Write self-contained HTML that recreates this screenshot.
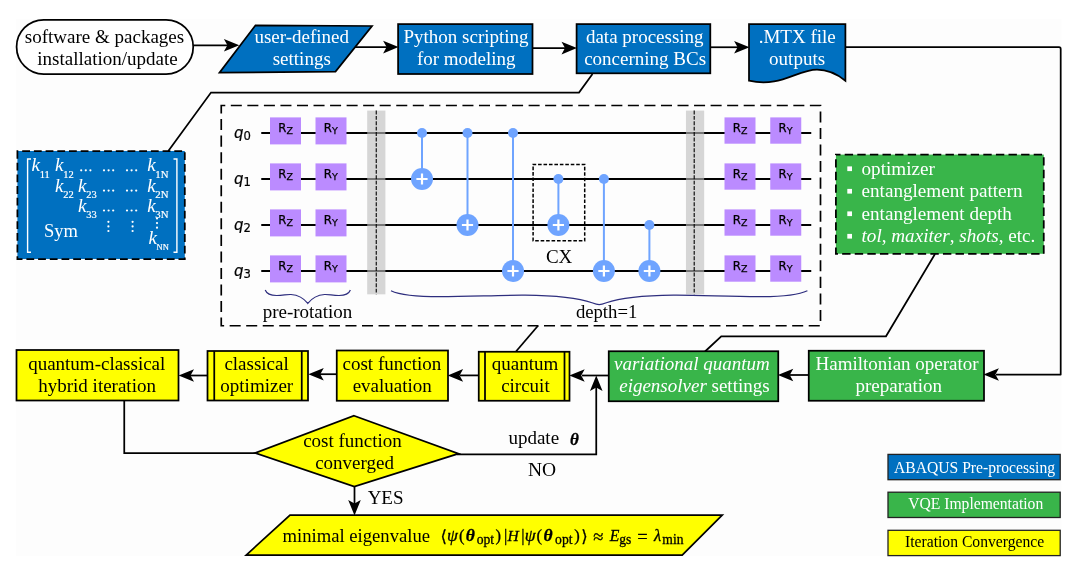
<!DOCTYPE html><html><head><meta charset="utf-8"><title>VQE workflow</title>
<style>html,body{margin:0;padding:0;background:#fff}svg{display:block}text{white-space:pre}</style></head><body>
<svg width="1080" height="570" viewBox="0 0 1080 570" font-family="'Liberation Serif',serif">
<rect width="1080" height="570" fill="#fff"/>
<rect x="16" y="19" width="1045.5" height="537" fill="#FDFDFD"/>
<polyline points="193.2,45.3 228,45.3" fill="none" stroke="#000" stroke-width="1.75"/>
<polygon points="239.3,45.3 223.9,39.0 227.4,45.3 223.9,51.599999999999994" fill="#000"/>
<polyline points="354.5,47.1 388,47.1" fill="none" stroke="#000" stroke-width="1.75"/>
<polygon points="398.5,47.1 383.1,40.800000000000004 386.6,47.1 383.1,53.4" fill="#000"/>
<polyline points="532.5,48.1 566,48.1" fill="none" stroke="#000" stroke-width="1.75"/>
<polygon points="576.9,48.1 561.5,41.800000000000004 565,48.1 561.5,54.4" fill="#000"/>
<polyline points="710.5,47.25 738,47.25" fill="none" stroke="#000" stroke-width="1.75"/>
<polygon points="749.5,47.25 734.1,40.95 737.6,47.25 734.1,53.55" fill="#000"/>
<path d="M845.4,47.2 H1059 Q1060.7,47.2 1060.7,49 V374.5 H996" fill="none" stroke="#000" stroke-width="1.75" stroke-linejoin="round"/>
<polygon points="983.5,374.5 998.9,368.2 995.4,374.5 998.9,380.8" fill="#000"/>
<polyline points="592.5,74 579,92.5 211,92.5 168.3,151" fill="none" stroke="#000" stroke-width="1.75"/>
<polyline points="935,254 886,336.25 721.25,336.25 705,351.5" fill="none" stroke="#000" stroke-width="1.75"/>
<polyline points="538,325.75 515.75,351.75" fill="none" stroke="#000" stroke-width="1.75"/>
<polyline points="808.75,375 790,375" fill="none" stroke="#000" stroke-width="1.75"/>
<polygon points="777.85,375 793.25,368.7 789.75,375 793.25,381.3" fill="#000"/>
<polyline points="608.75,375.5 582,375.5" fill="none" stroke="#000" stroke-width="1.75"/>
<polygon points="569.3000000000001,375.5 584.7,369.2 581.2,375.5 584.7,381.8" fill="#000"/>
<polyline points="478.75,375.4 460,375.4" fill="none" stroke="#000" stroke-width="1.75"/>
<polygon points="447.70000000000005,375.4 463.1,369.09999999999997 459.6,375.4 463.1,381.7" fill="#000"/>
<polyline points="336.75,374.2 320,374.2" fill="none" stroke="#000" stroke-width="1.75"/>
<polygon points="308.35,374.2 323.75,367.9 320.25,374.2 323.75,380.5" fill="#000"/>
<polyline points="207.5,375.5 190,375.5" fill="none" stroke="#000" stroke-width="1.75"/>
<polygon points="178.6,375.5 194.0,369.2 190.5,375.5 194.0,381.8" fill="#000"/>
<polyline points="124.25,400 124.25,453 257,453" fill="none" stroke="#000" stroke-width="1.75"/>
<polyline points="457,454.4 596.25,454.4 596.25,387" fill="none" stroke="#000" stroke-width="1.75"/>
<polygon points="596.25,375.6 589.95,391.0 596.25,387.5 602.55,391.0" fill="#000"/>
<polyline points="354.5,486 354.5,504" fill="none" stroke="#000" stroke-width="1.75"/>
<polygon points="354.5,515.4 348.2,500.0 354.5,503.5 360.8,500.0" fill="#000"/>
<rect x="16.6" y="19.75" width="176.6" height="54.25" rx="27.1" ry="27.1" fill="#fff" stroke="#000" stroke-width="1.75"/>
<text x="104.5" y="42.5" font-size="19" fill="#000" text-anchor="middle">software &amp; packages</text>
<text x="107.5" y="64.75" font-size="19" fill="#000" text-anchor="middle">installation/update</text>
<polygon points="255.5,25.3 372,26 335.5,71.6 219.5,72.6" fill="#0070C0" stroke="#000" stroke-width="1.75"/>
<text x="301.75" y="42.5" font-size="19" fill="#fff" text-anchor="middle">user-defined</text>
<text x="301.75" y="64.75" font-size="19" fill="#fff" text-anchor="middle">settings</text>
<rect x="398.1" y="24.1" width="134.39999999999998" height="49.9" fill="#0070C0" stroke="#000" stroke-width="1.75"/>
<text x="466" y="42.5" font-size="19" fill="#fff" text-anchor="middle">Python scripting</text>
<text x="466.25" y="64.75" font-size="19" fill="#fff" text-anchor="middle">for modeling</text>
<rect x="576.6" y="24.1" width="133.69999999999993" height="49.199999999999996" fill="#0070C0" stroke="#000" stroke-width="1.75"/>
<text x="644.75" y="42.5" font-size="19" fill="#fff" text-anchor="middle">data processing</text>
<text x="645.1" y="64.75" font-size="19" fill="#fff" text-anchor="middle">concerning BCs</text>
<path d="M749,24.2 H845.4 V80.7 C835,72.5 826,69.7 817,69.7 C797,69.7 780,88 749,80.7 Z" fill="#0070C0" stroke="#000" stroke-width="1.75"/>
<text x="797.25" y="42.5" font-size="19" fill="#fff" text-anchor="middle">.MTX file</text>
<text x="797.1" y="64.75" font-size="19" fill="#fff" text-anchor="middle">outputs</text>
<rect x="17.4" y="151" width="167.4" height="108" fill="#0070C0" stroke="#000" stroke-width="1.75" stroke-dasharray="7.8 3.9" stroke-dashoffset="6.9"/>
<path d="M31,159 H27.6 V252.3 H31 M173.5,159 H176.9 V252.3 H173.5" fill="none" stroke="#fff" stroke-width="1.4"/>
<text x="31.5" y="171.3" font-size="19" fill="#fff" font-style="italic">k<tspan font-style="normal" font-size="10.5" dy="6.4" dx="-0.3" stroke="#fff" stroke-width="0.2">11</tspan></text>
<text x="55" y="171.3" font-size="19" fill="#fff" font-style="italic">k<tspan font-style="normal" font-size="10.5" dy="6.4" dx="-0.3" stroke="#fff" stroke-width="0.2">12</tspan></text>
<text x="147.2" y="171.3" font-size="19" fill="#fff" font-style="italic">k<tspan font-style="normal" font-size="10.8" dy="6.4" dx="-0.3" stroke="#fff" stroke-width="0.2">1N</tspan></text>
<text x="55" y="192" font-size="19" fill="#fff" font-style="italic">k<tspan font-style="normal" font-size="10.5" dy="6.4" dx="-0.3" stroke="#fff" stroke-width="0.2">22</tspan></text>
<text x="78" y="192" font-size="19" fill="#fff" font-style="italic">k<tspan font-style="normal" font-size="10.5" dy="6.4" dx="-0.3" stroke="#fff" stroke-width="0.2">23</tspan></text>
<text x="147.2" y="192" font-size="19" fill="#fff" font-style="italic">k<tspan font-style="normal" font-size="10.8" dy="6.4" dx="-0.3" stroke="#fff" stroke-width="0.2">2N</tspan></text>
<text x="78" y="211.9" font-size="19" fill="#fff" font-style="italic">k<tspan font-style="normal" font-size="10.5" dy="6.4" dx="-0.3" stroke="#fff" stroke-width="0.2">33</tspan></text>
<text x="147.2" y="211.9" font-size="19" fill="#fff" font-style="italic">k<tspan font-style="normal" font-size="10.8" dy="6.4" dx="-0.3" stroke="#fff" stroke-width="0.2">3N</tspan></text>
<text x="148.4" y="244" font-size="19" fill="#fff" font-style="italic">k<tspan font-style="normal" font-size="8.5" dy="6.4" dx="-0.3" stroke="#fff" stroke-width="0.2">NN</tspan></text>
<circle cx="81.2" cy="170.3" r="1.1" fill="#fff"/>
<circle cx="85.8" cy="170.3" r="1.1" fill="#fff"/>
<circle cx="90.4" cy="170.3" r="1.1" fill="#fff"/>
<circle cx="104.0" cy="170.3" r="1.1" fill="#fff"/>
<circle cx="108.6" cy="170.3" r="1.1" fill="#fff"/>
<circle cx="113.2" cy="170.3" r="1.1" fill="#fff"/>
<circle cx="127.0" cy="170.3" r="1.1" fill="#fff"/>
<circle cx="131.6" cy="170.3" r="1.1" fill="#fff"/>
<circle cx="136.2" cy="170.3" r="1.1" fill="#fff"/>
<circle cx="104.0" cy="190.6" r="1.1" fill="#fff"/>
<circle cx="108.6" cy="190.6" r="1.1" fill="#fff"/>
<circle cx="113.2" cy="190.6" r="1.1" fill="#fff"/>
<circle cx="127.0" cy="190.6" r="1.1" fill="#fff"/>
<circle cx="131.6" cy="190.6" r="1.1" fill="#fff"/>
<circle cx="136.2" cy="190.6" r="1.1" fill="#fff"/>
<circle cx="104.0" cy="210.5" r="1.1" fill="#fff"/>
<circle cx="108.6" cy="210.5" r="1.1" fill="#fff"/>
<circle cx="113.2" cy="210.5" r="1.1" fill="#fff"/>
<circle cx="127.0" cy="210.5" r="1.1" fill="#fff"/>
<circle cx="131.6" cy="210.5" r="1.1" fill="#fff"/>
<circle cx="136.2" cy="210.5" r="1.1" fill="#fff"/>
<circle cx="108.4" cy="221.8" r="1.1" fill="#fff"/>
<circle cx="108.4" cy="226.4" r="1.1" fill="#fff"/>
<circle cx="108.4" cy="231.0" r="1.1" fill="#fff"/>
<circle cx="132.6" cy="221.8" r="1.1" fill="#fff"/>
<circle cx="132.6" cy="226.4" r="1.1" fill="#fff"/>
<circle cx="132.6" cy="231.0" r="1.1" fill="#fff"/>
<circle cx="157" cy="218.5" r="1.1" fill="#fff"/>
<circle cx="157" cy="223.1" r="1.1" fill="#fff"/>
<circle cx="157" cy="227.7" r="1.1" fill="#fff"/>
<text x="61" y="237" font-size="18.5" fill="#fff" text-anchor="middle">Sym</text>
<rect x="221.25" y="105.5" width="599.25" height="220.25" fill="none" stroke="#000" stroke-width="1.7" stroke-dasharray="11.03 5.515" stroke-dashoffset="7"/>
<line x1="261.25" y1="133" x2="811.25" y2="133" stroke="#000" stroke-width="2"/>
<line x1="261.25" y1="179" x2="811.25" y2="179" stroke="#000" stroke-width="2"/>
<line x1="261.25" y1="225" x2="811.25" y2="225" stroke="#000" stroke-width="2"/>
<line x1="261.25" y1="271" x2="811.25" y2="271" stroke="#000" stroke-width="2"/>
<rect x="367.2" y="110.6" width="18.2" height="183.7" fill="#BFBFBF" fill-opacity="0.62"/>
<line x1="376.25" y1="110.5" x2="376.25" y2="294.25" stroke="#000" stroke-width="1.1" stroke-dasharray="3.9 1.5"/>
<rect x="685.95" y="110.6" width="18.2" height="183.7" fill="#BFBFBF" fill-opacity="0.62"/>
<line x1="694.2" y1="110.5" x2="694.2" y2="294.25" stroke="#000" stroke-width="1.1" stroke-dasharray="3.9 1.5"/>
<text x="234" y="137.5" font-size="15" font-family="'DejaVu Sans',sans-serif" font-style="italic" stroke="#000" stroke-width="0.2">q<tspan font-style="normal" font-size="11.6" dy="2">0</tspan></text>
<rect x="270" y="117.4" width="31" height="27" fill="#BB8BFF"/>
<text x="278.3" y="132.2" font-size="11.7" font-family="'DejaVu Sans',sans-serif" stroke="#000" stroke-width="0.25">R<tspan font-size="9.5" dy="2">Z</tspan></text>
<rect x="315.5" y="117.4" width="31" height="27" fill="#BB8BFF"/>
<text x="323.8" y="132.2" font-size="11.7" font-family="'DejaVu Sans',sans-serif" stroke="#000" stroke-width="0.25">R<tspan font-size="9.5" dy="2">Y</tspan></text>
<rect x="724.5" y="117.4" width="31" height="26.3" fill="#BB8BFF"/>
<text x="732.8" y="132.2" font-size="11.7" font-family="'DejaVu Sans',sans-serif" stroke="#000" stroke-width="0.25">R<tspan font-size="9.5" dy="2">Z</tspan></text>
<rect x="770.25" y="117.4" width="31" height="26.3" fill="#BB8BFF"/>
<text x="778.55" y="132.2" font-size="11.7" font-family="'DejaVu Sans',sans-serif" stroke="#000" stroke-width="0.25">R<tspan font-size="9.5" dy="2">Y</tspan></text>
<text x="234" y="183.5" font-size="15" font-family="'DejaVu Sans',sans-serif" font-style="italic" stroke="#000" stroke-width="0.2">q<tspan font-style="normal" font-size="11.6" dy="2">1</tspan></text>
<rect x="270" y="163.4" width="31" height="27" fill="#BB8BFF"/>
<text x="278.3" y="178.2" font-size="11.7" font-family="'DejaVu Sans',sans-serif" stroke="#000" stroke-width="0.25">R<tspan font-size="9.5" dy="2">Z</tspan></text>
<rect x="315.5" y="163.4" width="31" height="27" fill="#BB8BFF"/>
<text x="323.8" y="178.2" font-size="11.7" font-family="'DejaVu Sans',sans-serif" stroke="#000" stroke-width="0.25">R<tspan font-size="9.5" dy="2">Y</tspan></text>
<rect x="724.5" y="163.4" width="31" height="26.3" fill="#BB8BFF"/>
<text x="732.8" y="178.2" font-size="11.7" font-family="'DejaVu Sans',sans-serif" stroke="#000" stroke-width="0.25">R<tspan font-size="9.5" dy="2">Z</tspan></text>
<rect x="770.25" y="163.4" width="31" height="26.3" fill="#BB8BFF"/>
<text x="778.55" y="178.2" font-size="11.7" font-family="'DejaVu Sans',sans-serif" stroke="#000" stroke-width="0.25">R<tspan font-size="9.5" dy="2">Y</tspan></text>
<text x="234" y="229.5" font-size="15" font-family="'DejaVu Sans',sans-serif" font-style="italic" stroke="#000" stroke-width="0.2">q<tspan font-style="normal" font-size="11.6" dy="2">2</tspan></text>
<rect x="270" y="209.4" width="31" height="27" fill="#BB8BFF"/>
<text x="278.3" y="224.2" font-size="11.7" font-family="'DejaVu Sans',sans-serif" stroke="#000" stroke-width="0.25">R<tspan font-size="9.5" dy="2">Z</tspan></text>
<rect x="315.5" y="209.4" width="31" height="27" fill="#BB8BFF"/>
<text x="323.8" y="224.2" font-size="11.7" font-family="'DejaVu Sans',sans-serif" stroke="#000" stroke-width="0.25">R<tspan font-size="9.5" dy="2">Y</tspan></text>
<rect x="724.5" y="209.4" width="31" height="26.3" fill="#BB8BFF"/>
<text x="732.8" y="224.2" font-size="11.7" font-family="'DejaVu Sans',sans-serif" stroke="#000" stroke-width="0.25">R<tspan font-size="9.5" dy="2">Z</tspan></text>
<rect x="770.25" y="209.4" width="31" height="26.3" fill="#BB8BFF"/>
<text x="778.55" y="224.2" font-size="11.7" font-family="'DejaVu Sans',sans-serif" stroke="#000" stroke-width="0.25">R<tspan font-size="9.5" dy="2">Y</tspan></text>
<text x="234" y="275.5" font-size="15" font-family="'DejaVu Sans',sans-serif" font-style="italic" stroke="#000" stroke-width="0.2">q<tspan font-style="normal" font-size="11.6" dy="2">3</tspan></text>
<rect x="270" y="255.4" width="31" height="27" fill="#BB8BFF"/>
<text x="278.3" y="270.2" font-size="11.7" font-family="'DejaVu Sans',sans-serif" stroke="#000" stroke-width="0.25">R<tspan font-size="9.5" dy="2">Z</tspan></text>
<rect x="315.5" y="255.4" width="31" height="27" fill="#BB8BFF"/>
<text x="323.8" y="270.2" font-size="11.7" font-family="'DejaVu Sans',sans-serif" stroke="#000" stroke-width="0.25">R<tspan font-size="9.5" dy="2">Y</tspan></text>
<rect x="724.5" y="255.4" width="31" height="26.3" fill="#BB8BFF"/>
<text x="732.8" y="270.2" font-size="11.7" font-family="'DejaVu Sans',sans-serif" stroke="#000" stroke-width="0.25">R<tspan font-size="9.5" dy="2">Z</tspan></text>
<rect x="770.25" y="255.4" width="31" height="26.3" fill="#BB8BFF"/>
<text x="778.55" y="270.2" font-size="11.7" font-family="'DejaVu Sans',sans-serif" stroke="#000" stroke-width="0.25">R<tspan font-size="9.5" dy="2">Y</tspan></text>
<line x1="422" y1="133" x2="422" y2="179" stroke="#6FA4FF" stroke-width="2"/>
<circle cx="422" cy="133" r="5" fill="#6FA4FF"/>
<circle cx="422" cy="179" r="11" fill="#6FA4FF"/>
<path d="M416.4,179 H427.6 M422,173.4 V184.6" stroke="#fff" stroke-width="2.2" fill="none"/>
<line x1="467.5" y1="133" x2="467.5" y2="225" stroke="#6FA4FF" stroke-width="2"/>
<circle cx="467.5" cy="133" r="5" fill="#6FA4FF"/>
<circle cx="467.5" cy="225" r="11" fill="#6FA4FF"/>
<path d="M461.9,225 H473.1 M467.5,219.4 V230.6" stroke="#fff" stroke-width="2.2" fill="none"/>
<line x1="513" y1="133" x2="513" y2="271" stroke="#6FA4FF" stroke-width="2"/>
<circle cx="513" cy="133" r="5" fill="#6FA4FF"/>
<circle cx="513" cy="271" r="11" fill="#6FA4FF"/>
<path d="M507.4,271 H518.6 M513,265.4 V276.6" stroke="#fff" stroke-width="2.2" fill="none"/>
<line x1="558.4" y1="179" x2="558.4" y2="225" stroke="#6FA4FF" stroke-width="2"/>
<circle cx="558.4" cy="179" r="5" fill="#6FA4FF"/>
<circle cx="558.4" cy="225" r="11" fill="#6FA4FF"/>
<path d="M552.8,225 H564.0 M558.4,219.4 V230.6" stroke="#fff" stroke-width="2.2" fill="none"/>
<line x1="603.9" y1="179" x2="603.9" y2="271" stroke="#6FA4FF" stroke-width="2"/>
<circle cx="603.9" cy="179" r="5" fill="#6FA4FF"/>
<circle cx="603.9" cy="271" r="11" fill="#6FA4FF"/>
<path d="M598.3,271 H609.5 M603.9,265.4 V276.6" stroke="#fff" stroke-width="2.2" fill="none"/>
<line x1="649.4" y1="225" x2="649.4" y2="271" stroke="#6FA4FF" stroke-width="2"/>
<circle cx="649.4" cy="225" r="5" fill="#6FA4FF"/>
<circle cx="649.4" cy="271" r="11" fill="#6FA4FF"/>
<path d="M643.8,271 H655.0 M649.4,265.4 V276.6" stroke="#fff" stroke-width="2.2" fill="none"/>
<rect x="533.1" y="164.4" width="51.6" height="76.4" fill="none" stroke="#000" stroke-width="1.5" stroke-dasharray="3.6 1.85" stroke-dashoffset="0.5"/>
<text x="559.1" y="262.5" font-size="19" fill="#000" text-anchor="middle">CX</text>
<path d="M265.2,290 C267,294.5 271,295.6 277,295.5 C283,295.4 287,294.3 291,294.5 C298,295 304,298.5 307.8,303.4 C311.6,298.5 317.6,295 324.6,294.5 C328.6,294.3 332.6,295.4 338.6,295.5 C344.6,295.6 348.6,294.5 350.4,290" fill="none" stroke="#2E2E7E" stroke-width="1.2"/>
<path d="M391,290.7 C400,295 420,296.7 440,296.7 C470,296.7 500,295 525,295.2 C555,295.5 580,298.5 592,302.8 C595,303.9 597,304.6 599.2,304.6 C601.4,304.6 603.4,303.9 606.4,302.8 C618.4,298.5 643.4,295.5 673.4,295.2 C698.4,295 728.4,296.7 758.4,296.7 C778.4,296.7 798.4,295 807.4,290.7" fill="none" stroke="#2E2E7E" stroke-width="1.2"/>
<text x="307.5" y="317.5" font-size="19" fill="#000" text-anchor="middle">pre-rotation</text>
<text x="606.6" y="317.5" font-size="18.7" fill="#000" text-anchor="middle">depth=1</text>
<rect x="835.9" y="154.6" width="207.85000000000002" height="99.15" fill="#39B54A" stroke="#000" stroke-width="1.75" stroke-dasharray="8.4 4.2" stroke-dashoffset="3.8"/>
<rect x="847.3" y="166.4" width="4.7" height="4.7" fill="#fff"/>
<text x="861.5" y="174.5" font-size="19.15" fill="#fff" text-anchor="start">optimizer</text>
<rect x="847.3" y="188.9" width="4.7" height="4.7" fill="#fff"/>
<text x="861.5" y="197.0" font-size="19.15" fill="#fff" text-anchor="start">entanglement pattern</text>
<rect x="847.3" y="211.4" width="4.7" height="4.7" fill="#fff"/>
<text x="861.5" y="219.5" font-size="19.15" fill="#fff" text-anchor="start">entanglement depth</text>
<rect x="847.3" y="233.9" width="4.7" height="4.7" fill="#fff"/>
<text x="861.5" y="242.0" font-size="19.15" fill="#fff" text-anchor="start"><tspan font-style="italic">tol</tspan>, <tspan font-style="italic">maxiter</tspan>, <tspan font-style="italic">shots</tspan>, etc.</text>
<rect x="808.75" y="350.75" width="175.25" height="50.0" fill="#39B54A" stroke="#000" stroke-width="1.75"/>
<text x="897.1" y="370" font-size="19" fill="#fff" text-anchor="middle">Hamiltonian operator</text>
<text x="898.7" y="392.25" font-size="19" fill="#fff" text-anchor="middle">preparation</text>
<rect x="608.75" y="351.25" width="169.5" height="50.0" fill="#39B54A" stroke="#000" stroke-width="1.75"/>
<text x="691.9" y="369.5" font-size="19" fill="#fff" text-anchor="middle" font-style="italic">variational quantum</text>
<text x="694.4" y="392" font-size="19" fill="#fff" text-anchor="middle"><tspan font-style="italic">eigensolver</tspan> settings</text>
<rect x="478.75" y="351.75" width="90.75" height="49.0" fill="#FFFF00" stroke="#000" stroke-width="1.75"/>
<polyline points="485,351.75 485,400.75" fill="none" stroke="#000" stroke-width="1.75"/>
<polyline points="564.5,351.75 564.5,400.75" fill="none" stroke="#000" stroke-width="1.75"/>
<text x="525.1" y="369.5" font-size="19" fill="#000" text-anchor="middle">quantum</text>
<text x="525.4" y="392" font-size="19" fill="#000" text-anchor="middle">circuit</text>
<rect x="336.75" y="350.5" width="111.25" height="50.25" fill="#FFFF00" stroke="#000" stroke-width="1.75"/>
<text x="391.9" y="369.5" font-size="19" fill="#000" text-anchor="middle">cost function</text>
<text x="392.25" y="392" font-size="19" fill="#000" text-anchor="middle">evaluation</text>
<rect x="207.5" y="351" width="100.5" height="49.5" fill="#FFFF00" stroke="#000" stroke-width="1.75"/>
<polyline points="214.25,351 214.25,400.5" fill="none" stroke="#000" stroke-width="1.75"/>
<polyline points="301.75,351 301.75,400.5" fill="none" stroke="#000" stroke-width="1.75"/>
<text x="256.6" y="369.5" font-size="19" fill="#000" text-anchor="middle">classical</text>
<text x="256.75" y="392" font-size="19" fill="#000" text-anchor="middle">optimizer</text>
<rect x="16.5" y="350" width="162.0" height="50.5" fill="#FFFF00" stroke="#000" stroke-width="1.75"/>
<text x="96.75" y="369.5" font-size="19" fill="#000" text-anchor="middle">quantum-classical</text>
<text x="97.1" y="392" font-size="19" fill="#000" text-anchor="middle">hybrid iteration</text>
<polygon points="354,415.8 458.5,453.6 354.3,486.7 255.4,453" fill="#FFFF00" stroke="#000" stroke-width="1.75"/>
<text x="352.5" y="447.2" font-size="19" fill="#000" text-anchor="middle">cost function</text>
<text x="354.6" y="469.2" font-size="19" fill="#000" text-anchor="middle">converged</text>
<text x="385.6" y="503.75" font-size="19" fill="#000" text-anchor="middle">YES</text>
<text x="542.1" y="475.5" font-size="19.5" fill="#000" text-anchor="middle">NO</text>
<text x="533.75" y="444.4" font-size="19" fill="#000" text-anchor="middle">update</text>
<text x="574.4" y="445" font-size="17" text-anchor="middle" font-family="'Liberation Serif','DejaVu Serif',serif" stroke="#000" stroke-width="0.3" font-style="italic" font-weight="bold">θ</text>
<polygon points="290,515 722.2,515 682.2,555 246.25,555" fill="#FFFF00" stroke="#000" stroke-width="1.75"/>
<text x="356.25" y="541.7" font-size="18.65" fill="#000" text-anchor="middle">minimal eigenvalue</text>
<text x="443.8" y="541.8" font-size="16.5" text-anchor="middle" font-family="'DejaVu Sans',sans-serif" stroke="#000" stroke-width="0.3" >⟨</text>
<text x="452.5" y="540.8" font-size="17.5" text-anchor="middle" font-family="'Liberation Serif','DejaVu Serif',serif" stroke="#000" stroke-width="0.3" font-style="italic">ψ</text>
<text x="461.8" y="540.8" font-size="16.6" text-anchor="middle" font-family="'Liberation Serif','DejaVu Serif',serif" stroke="#000" stroke-width="0.3" >(</text>
<text x="470.3" y="540.8" font-size="17.5" text-anchor="middle" font-family="'Liberation Serif','DejaVu Serif',serif" stroke="#000" stroke-width="0.3" font-style="italic" font-weight="bold">θ</text>
<text x="485.45" y="544" font-size="13.6" text-anchor="middle" font-family="'Liberation Serif','DejaVu Serif',serif" stroke="#000" stroke-width="0.3" >opt</text>
<text x="498.25" y="540.8" font-size="16.6" text-anchor="middle" font-family="'Liberation Serif','DejaVu Serif',serif" stroke="#000" stroke-width="0.3" >)</text>
<text x="505.75" y="540.8" font-size="16.6" text-anchor="middle" font-family="'Liberation Serif','DejaVu Serif',serif" stroke="#000" stroke-width="0.3" >|</text>
<text x="513.1" y="540.8" font-size="15.6" text-anchor="middle" font-family="'Liberation Serif','DejaVu Serif',serif" stroke="#000" stroke-width="0.3" font-style="italic">H</text>
<text x="522.8" y="540.8" font-size="16.6" text-anchor="middle" font-family="'Liberation Serif','DejaVu Serif',serif" stroke="#000" stroke-width="0.3" >|</text>
<text x="530.25" y="540.8" font-size="17.5" text-anchor="middle" font-family="'Liberation Serif','DejaVu Serif',serif" stroke="#000" stroke-width="0.3" font-style="italic">ψ</text>
<text x="539.25" y="540.8" font-size="16.6" text-anchor="middle" font-family="'Liberation Serif','DejaVu Serif',serif" stroke="#000" stroke-width="0.3" >(</text>
<text x="548.05" y="540.8" font-size="17.5" text-anchor="middle" font-family="'Liberation Serif','DejaVu Serif',serif" stroke="#000" stroke-width="0.3" font-style="italic" font-weight="bold">θ</text>
<text x="563.8" y="544" font-size="13.6" text-anchor="middle" font-family="'Liberation Serif','DejaVu Serif',serif" stroke="#000" stroke-width="0.3" >opt</text>
<text x="576.9" y="540.8" font-size="16.6" text-anchor="middle" font-family="'Liberation Serif','DejaVu Serif',serif" stroke="#000" stroke-width="0.3" >)</text>
<text x="584.4" y="541.8" font-size="16.5" text-anchor="middle" font-family="'DejaVu Sans',sans-serif" stroke="#000" stroke-width="0.3" >⟩</text>
<text x="598.25" y="542.6" font-size="18.5" text-anchor="middle" font-family="'Liberation Serif','DejaVu Serif',serif" stroke="#000" stroke-width="0.3" >≈</text>
<text x="614.5" y="540.8" font-size="15.8" text-anchor="middle" font-family="'Liberation Serif','DejaVu Serif',serif" stroke="#000" stroke-width="0.3" font-style="italic">E</text>
<text x="625.2" y="544" font-size="13.6" text-anchor="middle" font-family="'Liberation Serif','DejaVu Serif',serif" stroke="#000" stroke-width="0.3" >gs</text>
<text x="642.55" y="542.6" font-size="18.5" text-anchor="middle" font-family="'Liberation Serif','DejaVu Serif',serif" stroke="#000" stroke-width="0.3" >=</text>
<text x="657.6" y="540.8" font-size="16.6" text-anchor="middle" font-family="'Liberation Serif','DejaVu Serif',serif" stroke="#000" stroke-width="0.3" font-style="italic">λ</text>
<text x="672.9" y="544" font-size="13.6" text-anchor="middle" font-family="'Liberation Serif','DejaVu Serif',serif" stroke="#000" stroke-width="0.3" >min</text>
<rect x="888" y="454.4" width="172.20000000000005" height="25.30000000000001" fill="#0070C0" stroke="#222" stroke-width="1.3"/>
<rect x="888" y="492.2" width="172.20000000000005" height="25.30000000000001" fill="#39B54A" stroke="#222" stroke-width="1.3"/>
<rect x="888" y="530.3" width="172.20000000000005" height="25.300000000000068" fill="#FFFF00" stroke="#222" stroke-width="1.3"/>
<text x="974.5" y="472.6" font-size="15.65" fill="#fff" text-anchor="middle">ABAQUS Pre-processing</text>
<text x="975.7" y="509" font-size="15.65" fill="#fff" text-anchor="middle">VQE Implementation</text>
<text x="974.6" y="546.5" font-size="15.65" fill="#000" text-anchor="middle">Iteration Convergence</text>
</svg></body></html>
